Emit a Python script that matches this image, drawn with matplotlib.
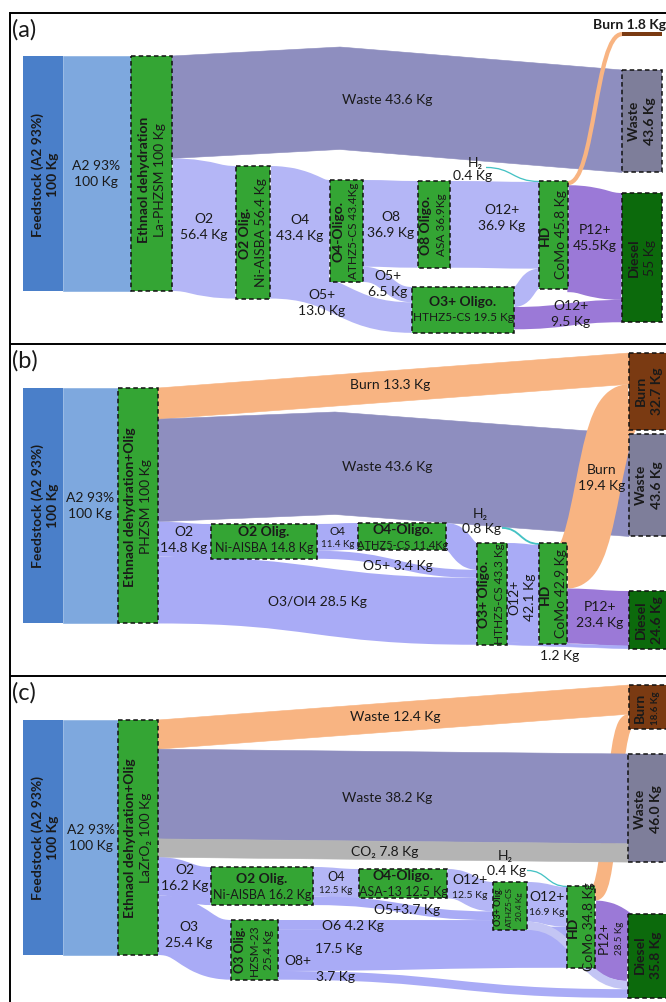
import matplotlib
matplotlib.use("Agg")
import matplotlib.pyplot as plt
from matplotlib.path import Path
from matplotlib.patches import PathPatch, Polygon, Rectangle

plt.rcParams["font.family"] = ["Lato", "DejaVu Sans"]

DPI = 100
KG = 2.35  # pixels per Kg of flow
TXT = "#1a1a1a"

# ---------------- panel (a) data ----------------
A_NODES = ["feed", "eth", "o2", "o4", "o8", "o3", "hd", "h2", "burn", "waste", "diesel"]
A_NODE_KG = [100, 100, 56.4, 43.4, 36.9, 19.5, 45.8, 0, 1.8, 43.6, 55]
A_FLOWS = [
    ("feed", "eth", 100), ("eth", "waste", 43.6), ("eth", "o2", 56.4),
    ("o2", "o4", 43.4), ("o4", "o8", 36.9), ("o4", "o3", 6.5), ("o2", "o3", 13.0),
    ("h2", "hd", 0.4), ("o8", "hd", 36.9), ("o3", "hd", 8.5),
    ("hd", "burn", 1.8), ("hd", "diesel", 45.5), ("o3", "diesel", 9.5),
]

# ---------------- panel (b) data ----------------
B_NODES = ["feed", "eth", "o2", "o4", "o3", "hd", "h2", "burn", "waste", "diesel"]
B_NODE_KG = [100, 100, 14.8, 11.4, 43.3, 42.9, 0, 32.7, 43.6, 24.6]
B_FLOWS = [
    ("feed", "eth", 100), ("eth", "burn", 13.3), ("eth", "waste", 43.6), ("eth", "o2", 14.8),
    ("o2", "o4", 11.4), ("o4", "o3", 11.4), ("o2", "o3", 3.4), ("eth", "o3", 28.5),
    ("h2", "hd", 0.8), ("o3", "hd", 42.1), ("hd", "burn", 19.4), ("hd", "diesel", 23.4),
    ("o3", "diesel", 1.2),
]

# ---------------- panel (c) data ----------------
C_NODES = ["feed", "eth", "o2", "o3", "o4", "o3p", "hd", "h2", "burn", "waste", "diesel"]
C_NODE_KG = [100, 100, 16.2, 25.4, 12.5, 20.4, 34.8, 0, 18.6, 46.0, 35.8]
C_FLOWS = [
    ("feed", "eth", 100), ("eth", "burn", 12.4), ("eth", "waste", 38.2), ("eth", "waste", 7.8),
    ("eth", "o2", 16.2), ("eth", "o3", 25.4), ("o2", "o4", 12.5), ("o4", "o3p", 12.5),
    ("o2", "o3p", 3.7), ("o3", "o3p", 4.2), ("h2", "hd", 0.4), ("o3p", "hd", 16.9),
    ("o3", "hd", 17.5), ("hd", "burn", 6.2), ("hd", "diesel", 28.5), ("o3p", "diesel", 3.5),
    ("o3", "diesel", 3.7),
]

# ---------------- layout / looks ----------------
COL = {
    "feed": "#4a7fc9", "a2": "#7ea8de", "green": "#34a534", "waste": "#8e8ebf",
    "wastenode": "#7e7e9a", "lav": "#b4b6f6", "lav2": "#a9abf6", "lavl": "#c3c5f4",
    "purple": "#9b79d7", "orange": "#f8b482", "burnnode": "#7a3a12", "burnbar": "#7a3a12",
    "diesel": "#0c6a0c", "co2": "#b4b4b4", "h2": "#45c2c4",
}

A_LAYOUT = {"feed": (23, 63, 57), "eth": (131, 172, 57), "o2": (236, 270, 167),
            "o4": (330, 363, 181), "o8": (418, 450, 182), "o3": (412, 514, 288),
            "hd": (539, 568, 182), "h2": (486, 486, 168), "burn": (622, 662, 33),
            "waste": (622, 662, 71), "diesel": (622, 662, 194)}
B_LAYOUT = {"feed": (23, 63, 389), "eth": (118, 158, 389), "o2": (211, 317, 525),
            "o4": (358, 446, 524), "o3": (477, 507, 544), "hd": (539, 567, 544),
            "h2": (502, 502, 528), "burn": (629, 669, 354), "waste": (629, 669, 435),
            "diesel": (629, 669, 592)}
C_LAYOUT = {"feed": (23, 63, 721), "eth": (118, 158, 721), "o2": (211, 313, 868),
            "o3": (231, 278, 921), "o4": (359, 447, 870), "o3p": (493, 527, 883),
            "hd": (567, 595, 887), "h2": (527, 527, 871), "burn": (629, 669, 686),
            "waste": (628, 668, 755), "diesel": (628, 668, 915)}

NODE_LOOK = {"feed": "feed", "eth": "green", "o2": "green", "o3": "green", "o4": "green",
             "o8": "green", "o3p": "green", "hd": "green", "h2": None, "burn": "burnnode",
             "waste": "wastenode", "diesel": "diesel"}

A_LOOK = [("a2", "l"), ("waste", "l"), ("lav", "c"), ("lav", "c"), ("lav", "c"), ("lav", "c"),
          ("lav", "c"), ("h2", "c"), ("lav", "c"), ("lav", "c"), ("orange", "c"),
          ("purple", "c"), ("purple", "c")]
B_LOOK = [("a2", "l"), ("orange", "l"), ("waste", "l"), ("lav2", "c"), ("lav2", "c"),
          ("lav2", "c"), ("lav2", "c"), ("lav2", "c"), ("h2", "c"), ("lav2", "c"),
          ("orange", "c"), ("purple", "c"), ("lav2", "l")]
C_LOOK = [("a2", "l"), ("orange", "l"), ("waste", "l"), ("co2", "l"), ("lav2", "c"),
          ("lav2", "c"), ("lav", "c"), ("lav", "c"), ("lav2", "c"), ("lav2", "c"), ("h2", "c"),
          ("lav", "c"), ("lav2", "c"), ("orange", "c"), ("purple", "c"), ("lavl", "c"),
          ("lav2", "c")]
A_WAY = {1: [(340, 48)]}
B_WAY = {2: [(335, 413)]}
C_WAY = {}
C_BEHIND = {13}

A_TEXT = [
    (96, 174, ["A2 93%", "100 Kg"], 0),
    (45, 175, ["*Feedstock (A2 93%)", "*100 Kg"], 90),
    (152, 180, ["*Ethnaol dehydration", "La-PHZSM 100 Kg"], 90),
    (253, 233, ["*O2 Olig.", "Ni-AISBA 56.4 Kg"], 90),
    (204, 227, ["O2", "56.4 Kg"], 0),
    (300, 228, ["O4", "43.4 Kg"], 0),
    (346, 231, ["*O4-Oligo.", ("ATHZ5-CS 43.4Kg", 8.5)], 90),
    (391, 225, ["O8", "36.9 Kg"], 0),
    (434, 225, ["*O8 Oligo.", ("ASA 36.9Kg", 8.5)], 90),
    (502, 218, ["O12+", "36.9 Kg"], 0),
    (553, 235, ["*HD", "CoMo 45.8 Kg"], 90),
    (595, 238, ["P12+", "45.5Kg"], 0),
    (322, 303, ["O5+", "13.0 Kg"], 0),
    (388, 284, ["O5+", "6.5 Kg"], 0),
    (463, 310, ["*O3+ Oligo.", ("HTHZ5-CS 19.5 Kg", 8.5)], 0),
    (571, 314, ["O12+", "9.5 Kg"], 0),
    (475, 163, ["H₂"], 0),
    (473, 176, ["0.4 Kg"], 0),
    (642, 121, ["*Waste", "*43.6 Kg"], 90),
    (642, 258, ["*Diesel", "55 Kg"], 90),
    (387, 100, ["Waste 43.6 Kg"], 0),
]
B_TEXT = [
    (90, 506, ["A2 93%", "100 Kg"], 0),
    (45, 506, ["*Feedstock (A2 93%)", "*100 Kg"], 90),
    (138, 507, ["*Ethnaol dehydration+Olig", "PHZSM 100 Kg"], 90),
    (390, 385, ["Burn 13.3 Kg"], 0),
    (387, 467, ["Waste 43.6 Kg"], 0),
    (184, 540, ["O2", "14.8 Kg"], 0),
    (264, 540, ["*O2 Olig.", ("Ni-AISBA 14.8 Kg", 9)], 0),
    (338, 538, [("O4", 8.5), ("11.4 Kg", 7)], 0),
    (403, 538, ["*O4-Oligo.", ("ATHZ5-CS 11.4Kg", 8)], 0),
    (398, 566, ["O5+ 3.4 Kg"], 0),
    (317, 602, ["O3/OI4 28.5 Kg"], 0),
    (480, 514, ["H₂"], 0),
    (481, 529, ["0.8 Kg"], 0),
    (492, 594, ["*O3+ Oligo.", ("HTHZ5-CS 43.3 Kg", 8.5)], 90),
    (522, 597, ["O12+", "42.1 Kg"], 90),
    (553, 594, ["*HD", "CoMo 42.9 Kg"], 90),
    (602, 478, ["Burn", "19.4 Kg"], 0),
    (600, 615, ["P12+", "23.4 Kg"], 0),
    (560, 656, ["1.2 Kg"], 0),
    (649, 391, ["*Burn", "*32.7 Kg"], 90),
    (649, 485, ["*Waste", "*43.6 Kg"], 90),
    (649, 620, ["*Diesel", "*24.6 Kg"], 90),
]
C_TEXT = [
    (91, 838, ["A2 93%", "100 Kg"], 0),
    (45, 838, ["*Feedstock (A2 93%)", "*100 Kg"], 90),
    (138, 838, ["*Ethnaol dehydration+Olig", "LaZrO₂ 100 Kg"], 90),
    (395, 717, ["Waste 12.4 Kg"], 0),
    (387, 798, ["Waste 38.2 Kg"], 0),
    (385, 852, ["CO₂ 7.8 Kg"], 0),
    (185, 878, ["O2", "16.2 Kg"], 0),
    (262, 887, ["*O2 Olig.", ("Ni-AISBA 16.2 Kg", 9)], 0),
    (336, 884, [("O4", 9), ("12.5 Kg", 7)], 0),
    (403, 884, ["*O4-Oligo.", ("ASA-13 12.5 Kg", 9)], 0),
    (407, 910, ["O5+3.7 Kg"], 0),
    (470, 888, ["O12+", ("12.5 Kg", 7.5)], 0),
    (509, 907, [("*O3+ Olig.", 6.5), ("ATHZ5-CS", 6), ("20.4 Kg", 6)], 90),
    (547, 905, ["O12+", ("16.9 Kg", 7.5)], 0),
    (505, 856, ["H₂"], 0),
    (507, 871, ["0.4 Kg"], 0),
    (581, 927, ["*HD", "CoMo 34.8 Kg"], 90),
    (612, 938, ["P12+", ("28.5 Kg", 7)], 90),
    (648, 955, ["*Diesel", "*35.8 Kg"], 90),
    (648, 708, ["*Burn", ("*18.6 Kg", 7)], 90),
    (648, 809, ["*Waste", "*46.0 Kg"], 90),
    (189, 935, ["O3", "25.4 Kg"], 0),
    (254, 950, [("*O3 Olig.", 9), ("HZSM-23", 8.5), ("25.4 Kg", 8.5)], 90),
    (353, 926, ["O6 4.2 Kg"], 0),
    (339, 949, ["17.5 Kg"], 0),
    (298, 961, ["O8+"], 0),
    (335, 977, ["3.7 Kg"], 0),
]


def curve_band(ax, pts, h, color, z):
    verts = [pts[0]]
    codes = [Path.MOVETO]
    for (xa, ya), (xb, yb) in zip(pts[:-1], pts[1:]):
        xm = (xa + xb) / 2
        verts += [(xm, ya), (xm, yb), (xb, yb)]
        codes += [Path.CURVE4] * 3
    lw = max(h, 1.3) * 72 / DPI
    ax.add_patch(PathPatch(Path(verts, codes), fill=False, lw=lw, ec=color,
                           capstyle="butt", joinstyle="round", zorder=z))


def line_band(ax, tops, h, color, z):
    bots = [(x, y + h) for x, y in reversed(tops)]
    ax.add_patch(Polygon(tops + bots, closed=True, fc=color, ec=color, lw=0.4, zorder=z))


def put_text(ax, x, y, lines, rot, base=10):
    specs = []
    for ln in lines:
        s, size = ln if isinstance(ln, tuple) else (ln, base)
        wt = "bold" if s.startswith("*") else "normal"
        specs.append((s.lstrip("*"), size, wt))
    gap = 1.12 * max(sz for _, sz, _ in specs) * DPI / 72
    n = len(specs)
    for i, (s, sz, wt) in enumerate(specs):
        off = (i - (n - 1) / 2) * gap
        xx, yy = (x + off, y) if rot == 90 else (x, y + off)
        ax.text(xx, yy, s, fontsize=sz, fontweight=wt, rotation=rot,
                ha="center", va="center", color=TXT, zorder=6)


def draw_panel(ax, nodes, node_kg, layout, flows, looks, way, behind, texts, burnbar=False):
    kg_of = dict(zip(nodes, node_kg))
    out_off = {n: 0.0 for n in nodes}
    in_off = {n: 0.0 for n in nodes}
    for i, ((src, dst, kg), (ckey, kind)) in enumerate(zip(flows, looks)):
        h = kg * KG
        sx, tx = layout[src][1], layout[dst][0]
        sy = layout[src][2] + out_off[src]
        ty = layout[dst][2] + in_off[dst]
        out_off[src] += h
        in_off[dst] += h
        mids = way.get(i, [])
        z = 0.5 if i in behind else 1
        if kind == "l":
            line_band(ax, [(sx, sy)] + mids + [(tx, ty)], h, COL[ckey], z)
        else:
            pts = [(sx, sy + h / 2)] + [(x, y + h / 2) for x, y in mids] + [(tx, ty + h / 2)]
            curve_band(ax, pts, h, COL[ckey], z)
    for n in nodes:
        look = NODE_LOOK[n]
        if look is None:
            continue
        x0, x1, top = layout[n]
        h = kg_of[n] * KG
        if look == "feed" or (n == "burn" and burnbar):
            ax.add_patch(Rectangle((x0, top), x1 - x0, h, fc=COL[look], ec="none", zorder=3))
        else:
            ax.add_patch(Rectangle((x0, top), x1 - x0, h, fc=COL[look], ec="#111111",
                                   lw=1.1, ls=(0, (3, 2)), zorder=3))
    for x, y, lines, rot in texts:
        put_text(ax, x, y, lines, rot)


fig = plt.figure(figsize=(6.66, 10.03), dpi=DPI)
ax = fig.add_axes([0, 0, 1, 1])
ax.set_xlim(0, 666)
ax.set_ylim(1003, 0)
ax.axis("off")

draw_panel(ax, A_NODES, A_NODE_KG, A_LAYOUT, A_FLOWS, A_LOOK, A_WAY, set(), A_TEXT, burnbar=True)
draw_panel(ax, B_NODES, B_NODE_KG, B_LAYOUT, B_FLOWS, B_LOOK, B_WAY, set(), B_TEXT)
draw_panel(ax, C_NODES, C_NODE_KG, C_LAYOUT, C_FLOWS, C_LOOK, C_WAY, C_BEHIND, C_TEXT)

ax.text(593, 25, "Burn 1.8 Kg", fontsize=10, fontweight="bold", ha="left", va="center",
        color=TXT, zorder=6)

# panel frames
for y, tag in ((14, "(a)"), (345, "(b)"), (677, "(c)")):
    ax.plot([10, 680], [y, y], color="black", lw=1.4, zorder=7, solid_capstyle="butt")
    ax.text(12, y + 16, tag, fontsize=17, ha="left", va="center", color=TXT, zorder=7)
ax.plot([10, 10], [14, 1010], color="black", lw=1.4, zorder=7)

fig.savefig("out.png", dpi=DPI)
